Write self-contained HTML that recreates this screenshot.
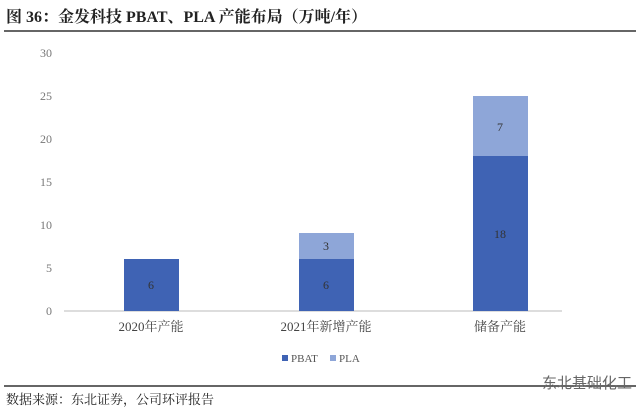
<!DOCTYPE html>
<html><head><meta charset="utf-8"><style>
body{margin:0;width:640px;height:410px;background:#fff;overflow:hidden;font-family:"Liberation Serif","Noto Serif CJK SC",serif;}
</style></head><body>
<svg width="640" height="410" xmlns="http://www.w3.org/2000/svg" style="position:absolute;left:0;top:0">
<text x="6" y="22" font-size="16" font-weight="bold" fill="#222" font-family="Liberation Serif,Noto Serif CJK SC,serif">图 36：金发科技 PBAT、PLA 产能布局（万吨/年）</text>
<line x1="4" y1="31" x2="636" y2="31" stroke="#333" stroke-width="1.5"/>
<g font-size="12" fill="#777" text-anchor="end">
<text x="52" y="57">30</text><text x="52" y="100">25</text><text x="52" y="143">20</text>
<text x="52" y="186">15</text><text x="52" y="229">10</text><text x="52" y="272">5</text><text x="52" y="315">0</text>
</g>
<line x1="64" y1="311" x2="562" y2="311" stroke="#bbb" stroke-width="1"/>
<rect x="124" y="259" width="55" height="52" fill="#3F63B4"/>
<rect x="299" y="259" width="55" height="52" fill="#3F63B4"/>
<rect x="299" y="233" width="55" height="26" fill="#8EA6D8"/>
<rect x="473" y="156" width="55" height="155" fill="#3F63B4"/>
<rect x="473" y="96" width="55" height="60" fill="#8EA6D8"/>
<g font-size="12" fill="#333" text-anchor="middle">
<text x="151" y="289">6</text><text x="326" y="289">6</text><text x="326" y="250">3</text>
<text x="500" y="238">18</text><text x="500" y="131">7</text>
</g>
<g font-size="13" fill="#444" text-anchor="middle">
<text x="151" y="331">2020年产能</text><text x="326" y="331">2021年新增产能</text><text x="500" y="331">储备产能</text>
</g>
<rect x="282" y="355" width="6" height="6" fill="#3F63B4"/>
<text x="291" y="362" font-size="11" fill="#555">PBAT</text>
<rect x="330" y="355" width="6" height="6" fill="#8EA6D8"/>
<text x="339" y="362" font-size="11" fill="#555">PLA</text>
<line x1="4" y1="386" x2="636" y2="386" stroke="#333" stroke-width="1.5"/>
<text x="6" y="404" font-size="13" fill="#222">数据来源：东北证券，公司环评报告</text>
<text x="632" y="388" font-size="15" fill="#666" text-anchor="end" font-family="Noto Sans CJK SC,sans-serif">东北基础化工</text>
</svg>
</body></html>
